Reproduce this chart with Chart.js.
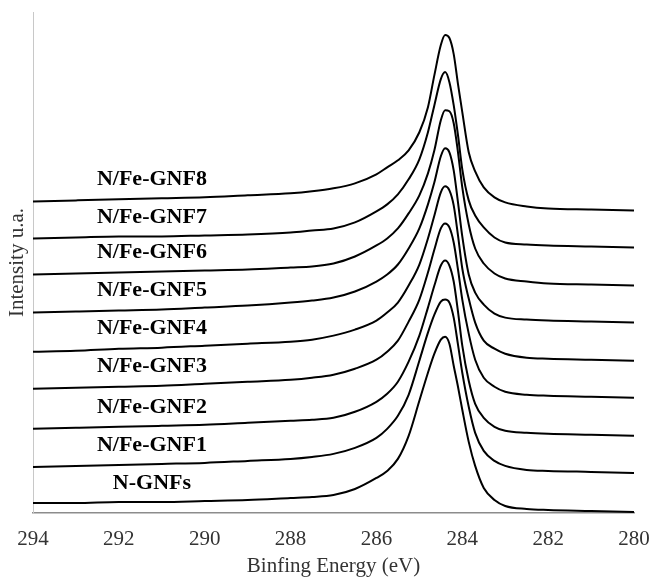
<!DOCTYPE html>
<html>
<head>
<meta charset="utf-8">
<title>C1s spectra</title>
<script src="https://cdn.jsdelivr.net/npm/chart.js@4/dist/chart.umd.min.js"></script>
<style>
  html, body { margin: 0; padding: 0; background: #fff; }
  #wrap { width: 651px; height: 579px; }
</style>
</head>
<body>
<div id="wrap"><canvas id="xpsChart" width="651" height="579"></canvas></div>
<script>
// Binding energy grid (eV), denser around the C1s peak
const energies = [294, 293, 292, 291, 290, 289, 288, 287.5, 287, 286.5, 286, 285.75, 285.5, 285.25, 285,
    284.8, 284.65, 284.5, 284.4, 284.3, 284.2, 284.1, 284, 283.85, 283.7, 283.5, 283.25, 283, 282.5, 282, 281, 280];

// Intensity of each sample (arbitrary units, baseline at 280 eV = 0)
const nGNFs   = [9, 9, 10, 10, 11, 12, 14, 15, 17, 23, 34, 41, 53, 76, 111, 139, 158, 172, 175, 168, 146, 125, 102, 70, 46, 24, 12, 6, 3, 2, 1, 0];
const feGNF1  = [6, 7, 8, 9, 10, 12, 14, 16, 19, 25, 35, 44, 57, 78, 112, 140, 158, 171, 173, 170, 155, 128, 100, 66, 40, 22, 12, 7, 3, 2, 1, 0];
const feGNF2  = [7, 8, 9, 10, 11, 13, 15, 16, 18, 24, 34, 42, 54, 74, 100, 128, 150, 170, 175, 170, 154, 124, 90, 55, 32, 18, 9, 5, 3, 2, 1, 0];
const feGNF3  = [9, 10, 11, 12, 14, 16, 18, 20, 23, 29, 38, 46, 57, 76, 98, 125, 148, 169, 174, 170, 155, 128, 98, 64, 38, 20, 11, 6, 3, 2, 1, 0];
const feGNF4  = [9, 10, 12, 13, 15, 17, 19, 21, 25, 31, 40, 48, 58, 75, 96, 122, 145, 168, 174, 170, 155, 125, 92, 62, 38, 20, 12, 7, 3, 2, 1, 0];
const feGNF5  = [10, 11, 12, 13, 15, 17, 20, 22, 25, 31, 41, 48, 58, 74, 94, 118, 140, 166, 174, 170, 152, 120, 86, 48, 30, 18, 9, 5, 3, 2, 1, 0];
const feGNF6  = [11, 12, 13, 14, 15, 16, 18, 19, 22, 29, 40, 47, 57, 72, 90, 112, 135, 165, 175, 174, 162, 133, 98, 61, 37, 22, 12, 7, 4, 2, 1, 0];
const feGNF7  = [9, 10, 11, 11, 12, 13, 15, 17, 19, 25, 36, 43, 53, 68, 88, 115, 142, 168, 175, 165, 142, 112, 78, 47, 32, 20, 10, 5, 3, 2, 1, 0];
const feGNF8  = [9, 10, 11, 12, 13, 15, 17, 19, 22, 27, 36, 43, 50, 60, 78, 103, 135, 165, 175, 172, 156, 126, 98, 58, 39, 23, 13, 8, 4, 2, 1, 0];

const sampleNames = ['N-GNFs', 'N/Fe-GNF1', 'N/Fe-GNF2', 'N/Fe-GNF3', 'N/Fe-GNF4', 'N/Fe-GNF5', 'N/Fe-GNF6', 'N/Fe-GNF7', 'N/Fe-GNF8'];
const spectra = [nGNFs, feGNF1, feGNF2, feGNF3, feGNF4, feGNF5, feGNF6, feGNF7, feGNF8];
// vertical shift so the spectra stack without overlapping
const stackOffsets = [1, 40, 77, 115, 152, 190, 227, 265, 302];

const serif = "'Liberation Serif', 'Times New Roman', serif";
const labelEnergy = 291.23;

// names written just above each spectrum on the left side
const sampleLabels = {
    id: 'sampleLabels',
    afterDatasetsDraw(chart) {
        const ctx = chart.ctx;
        const xs = chart.scales.x, ys = chart.scales.y;
        const idx = energies.indexOf(291);
        ctx.save();
        ctx.font = "bold 22px " + serif;
        ctx.fillStyle = '#000';
        ctx.textAlign = 'center';
        ctx.textBaseline = 'middle';
        chart.data.datasets.forEach((ds) => {
            const px = xs.getPixelForValue(labelEnergy);
            const py = ys.getPixelForValue(ds.data[idx].y) - 19;
            ctx.fillText(ds.label, px, py);
        });
        ctx.restore();
    }
};

const datasets = spectra.map((values, i) => ({
    label: sampleNames[i],
    data: energies.map((e, j) => ({ x: e, y: values[j] + stackOffsets[i] })),
    borderColor: '#000',
    borderWidth: 2,
    pointRadius: 0,
    fill: false,
    cubicInterpolationMode: 'monotone'
}));

new Chart(document.getElementById('xpsChart'), {
    type: 'line',
    data: { datasets },
    options: {
        responsive: false,
        animation: false,
        layout: { padding: { top: 12, right: 17, left: 0, bottom: 0 } },
        plugins: { legend: { display: false }, tooltip: { enabled: false } },
        scales: {
            x: {
                type: 'linear',
                min: 280,
                max: 294,
                reverse: true,
                grid: { display: false, drawTicks: false },
                border: { color: '#8c8c8c', width: 1.5 },
                ticks: { stepSize: 2, color: '#333', padding: 14, font: { family: serif, size: 21 } },
                title: { display: true, text: 'Binfing Energy (eV)', color: '#333', padding: 0, font: { family: serif, size: 21 } },
                afterFit(scale) {
                    scale.height = 66;
                    // end labels may overhang the plot edges
                    scale.paddingLeft = 0;
                    scale.paddingRight = 0;
                }
            },
            y: {
                min: 0,
                max: 500,
                grid: { display: false, drawTicks: false },
                border: { color: '#c8c8c8', width: 1 },
                ticks: { display: false },
                title: { display: true, text: 'Intensity u.a.', color: '#333', padding: { top: 5, bottom: 0 }, font: { family: serif, size: 21 } },
                afterFit(scale) { scale.width = 33; }
            }
        }
    },
    plugins: [sampleLabels]
});
</script>
</body>
</html>
